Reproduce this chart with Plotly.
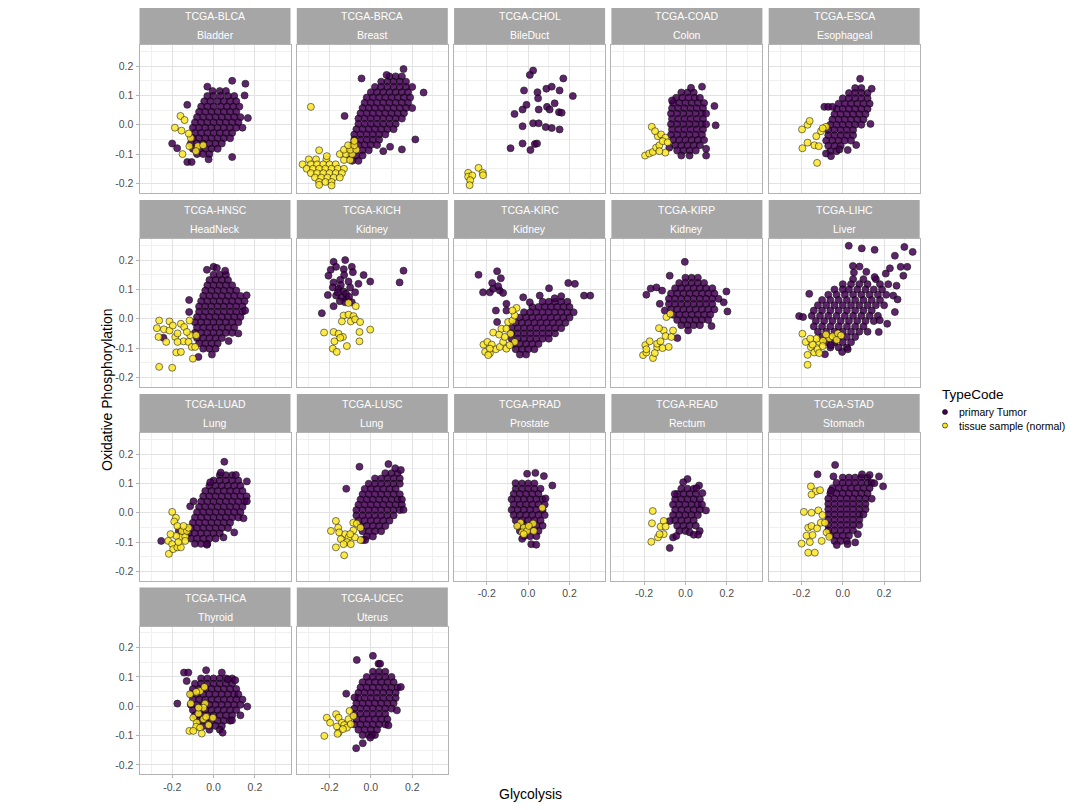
import plotly.graph_objects as go

# facet labels
projects = ["TCGA-BLCA", "TCGA-BRCA", "TCGA-CHOL", "TCGA-COAD", "TCGA-ESCA",
            "TCGA-HNSC", "TCGA-KICH", "TCGA-KIRC", "TCGA-KIRP", "TCGA-LIHC",
            "TCGA-LUAD", "TCGA-LUSC", "TCGA-PRAD", "TCGA-READ", "TCGA-STAD",
            "TCGA-THCA", "TCGA-UCEC"]
sites = ["Bladder", "Breast", "BileDuct", "Colon", "Esophageal",
         "HeadNeck", "Kidney", "Kidney", "Kidney", "Liver",
         "Lung", "Lung", "Prostate", "Rectum", "Stomach",
         "Thyroid", "Uterus"]
type_codes = ["primary Tumor", "tissue sample (normal)"]
tick_vals = [-0.2, 0.0, 0.2]
tick_text = ["-0.2", "0.0", "0.2"]
y_tick_vals = [-0.2, -0.1, 0.0, 0.1, 0.2]
y_tick_text = ["-0.2", "-0.1", "0.0", "0.1", "0.2"]

blca_tumor_rows = [
    (0.115, [-0.005, 0.03, 0.06]),
    (0.098, [-0.03, 0.0, 0.035, 0.07, 0.10]),
    (0.08, [-0.045, -0.015, 0.02, 0.05, 0.08, 0.11]),
    (0.062, [-0.06, -0.03, 0.0, 0.035, 0.065, 0.095, 0.125]),
    (0.044, [-0.07, -0.04, -0.01, 0.02, 0.05, 0.08, 0.11]),
    (0.026, [-0.08, -0.05, -0.02, 0.01, 0.04, 0.07, 0.10, 0.13]),
    (0.008, [-0.09, -0.06, -0.03, 0.0, 0.03, 0.06, 0.09, 0.12]),
    (-0.01, [-0.10, -0.07, -0.04, -0.01, 0.02, 0.05, 0.08, 0.11, 0.14]),
    (-0.028, [-0.09, -0.06, -0.03, 0.0, 0.03, 0.06, 0.09]),
    (-0.046, [-0.10, -0.07, -0.04, -0.01, 0.02, 0.05, 0.08]),
    (-0.064, [-0.11, -0.08, -0.05, -0.02, 0.01, 0.04]),
    (-0.082, [-0.10, -0.07, -0.04, -0.01, 0.02]),
    (-0.10, [-0.08, -0.05, -0.02]),
]
blca_tumor_extra = [(0.154, 0.14), (0.09, 0.15), (-0.2, -0.064), (-0.127, -0.127), (-0.106, -0.127),
                    (0.09, -0.11), (-0.127, 0.068), (-0.03, 0.13), (0.15, 0.1), (0.166, 0.023),
                    (-0.176, -0.08), (-0.024, -0.118)]
blca_normal = [(-0.16, 0.03), (-0.187, -0.01), (-0.14, 0.016), (-0.155, -0.02), (-0.11, -0.045),
               (-0.15, -0.1), (-0.117, -0.073), (-0.076, -0.073), (-0.05, -0.07), (-0.085, -0.09),
               (-0.12, -0.03)]

brca_tumor_rows = [
    (0.165, [0.09, 0.12, 0.15]),
    (0.147, [0.05, 0.08, 0.11, 0.14, 0.17]),
    (0.129, [0.02, 0.05, 0.08, 0.11, 0.14, 0.17, 0.20]),
    (0.111, [0.0, 0.03, 0.06, 0.09, 0.12, 0.15, 0.18]),
    (0.093, [-0.02, 0.01, 0.04, 0.07, 0.10, 0.13, 0.16, 0.19]),
    (0.075, [-0.03, 0.0, 0.03, 0.06, 0.09, 0.12, 0.15, 0.18]),
    (0.057, [-0.04, -0.01, 0.02, 0.05, 0.08, 0.11, 0.14, 0.17, 0.20]),
    (0.039, [-0.05, -0.02, 0.01, 0.04, 0.07, 0.10, 0.13, 0.16]),
    (0.021, [-0.06, -0.03, 0.0, 0.03, 0.06, 0.09, 0.12, 0.15]),
    (0.003, [-0.06, -0.03, 0.0, 0.03, 0.06, 0.09, 0.12]),
    (-0.015, [-0.07, -0.04, -0.01, 0.02, 0.05, 0.08, 0.11]),
    (-0.033, [-0.08, -0.05, -0.02, 0.01, 0.04, 0.07]),
    (-0.051, [-0.08, -0.05, -0.02, 0.01, 0.04]),
    (-0.069, [-0.09, -0.06, -0.03, 0.0, 0.03]),
    (-0.087, [-0.10, -0.07, -0.04, -0.01]),
    (-0.105, [-0.10, -0.07, -0.04]),
    (-0.123, [-0.09, -0.06]),
]
brca_tumor_extra = [(0.215, -0.05), (0.15, -0.084), (0.06, -0.09), (0.093, -0.075), (-0.127, 0.03),
                    (-0.045, 0.158), (0.255, 0.11), (0.158, 0.19), (0.076, 0.17)]
brca_normal_rows = [
    (-0.118, [-0.30, -0.265, -0.215]),
    (-0.135, [-0.33, -0.29, -0.26, -0.23, -0.20, -0.17]),
    (-0.15, [-0.31, -0.28, -0.25, -0.22, -0.19, -0.16, -0.13]),
    (-0.165, [-0.29, -0.26, -0.23, -0.20, -0.17, -0.14]),
    (-0.18, [-0.27, -0.24, -0.21, -0.18, -0.15]),
    (-0.195, [-0.25, -0.22, -0.19]),
    (-0.12, [-0.13, -0.10]),
    (-0.10, [-0.15, -0.12, -0.09]),
    (-0.085, [-0.13, -0.10, -0.07]),
    (-0.07, [-0.11, -0.08]),
    (-0.055, [-0.08]),
]
brca_normal = [(-0.29, 0.061), (-0.25, -0.087), (-0.19, -0.207), (-0.25, -0.205), (-0.213, -0.107)]

chol_tumor = [(0.024, 0.185), (0.008, 0.17), (0.17, 0.158), (-0.02, 0.117), (0.045, 0.111),
              (0.088, 0.123), (0.114, 0.13), (0.152, 0.117), (0.216, 0.098), (0.048, 0.09),
              (-0.008, 0.068), (-0.027, 0.052), (-0.066, 0.037), (0.051, 0.052), (0.091, 0.061),
              (0.104, 0.052), (0.128, 0.073), (0.149, 0.043), (0.162, 0.041), (-0.027, -0.005),
              (0.024, 0.005), (0.051, 0.005), (0.085, -0.008), (0.114, -0.011), (0.152, -0.016),
              (-0.085, -0.08), (-0.027, -0.064), (0.032, -0.066), (0.043, -0.064), (0.011, -0.086)]
chol_normal = [(-0.29, -0.164), (-0.29, -0.177), (-0.27, -0.173), (-0.28, -0.189), (-0.283, -0.206),
               (-0.24, -0.147), (-0.22, -0.164), (-0.218, -0.172)]

coad_tumor_rows = [
    (0.11, [-0.02, 0.01, 0.04]),
    (0.092, [-0.045, -0.015, 0.015, 0.045, 0.07]),
    (0.074, [-0.06, -0.03, 0.0, 0.03, 0.06, 0.09]),
    (0.056, [-0.065, -0.035, -0.005, 0.025, 0.055, 0.085]),
    (0.038, [-0.07, -0.04, -0.01, 0.02, 0.05, 0.08, 0.10]),
    (0.02, [-0.065, -0.035, -0.005, 0.025, 0.055, 0.085]),
    (0.002, [-0.07, -0.04, -0.01, 0.02, 0.05, 0.08, 0.10]),
    (-0.016, [-0.065, -0.035, -0.005, 0.025, 0.055, 0.085]),
    (-0.034, [-0.07, -0.04, -0.01, 0.02, 0.05, 0.08]),
    (-0.052, [-0.06, -0.03, 0.0, 0.03, 0.06, 0.09]),
    (-0.07, [-0.05, -0.02, 0.01, 0.04, 0.07]),
    (-0.088, [-0.04, -0.01, 0.02, 0.05]),
    (-0.105, [-0.02, 0.02]),
]
coad_tumor_extra = [(0.027, 0.126), (0.08, 0.13), (0.14, 0.064), (0.146, -0.002), (0.1, -0.082),
                    (0.1, -0.105), (-0.078, -0.078), (-0.065, 0.083)]
coad_normal = [(-0.163, -0.007), (-0.195, -0.105), (-0.175, -0.098), (-0.158, -0.093), (-0.142, -0.078),
               (-0.126, -0.07), (-0.134, -0.039), (-0.118, -0.033), (-0.097, -0.044), (-0.147, -0.022),
               (-0.11, -0.056), (-0.097, -0.095), (-0.126, -0.09), (-0.086, -0.06)]

esca_tumor_rows = [
    (0.125, [0.06, 0.09]),
    (0.108, [0.03, 0.06, 0.09, 0.12]),
    (0.09, [0.0, 0.03, 0.06, 0.09, 0.12]),
    (0.072, [-0.02, 0.01, 0.04, 0.07, 0.10, 0.13]),
    (0.054, [-0.03, 0.0, 0.03, 0.06, 0.09, 0.12]),
    (0.036, [-0.04, -0.01, 0.02, 0.05, 0.08, 0.11]),
    (0.018, [-0.05, -0.02, 0.01, 0.04, 0.07, 0.10]),
    (0.0, [-0.06, -0.03, 0.0, 0.03, 0.06, 0.09]),
    (-0.018, [-0.07, -0.04, -0.01, 0.02, 0.05]),
    (-0.036, [-0.07, -0.04, -0.01, 0.02, 0.05]),
    (-0.054, [-0.08, -0.05, -0.02, 0.01, 0.04]),
    (-0.072, [-0.07, -0.04, -0.01]),
    (-0.09, [-0.06, -0.03]),
]
esca_tumor_extra = [(0.084, 0.157), (0.14, 0.123), (-0.089, 0.061), (-0.07, 0.061), (-0.05, 0.061),
                    (0.134, 0.003), (-0.081, -0.098), (-0.057, -0.107), (-0.016, -0.084), (0.024, -0.086),
                    (0.065, -0.069)]
esca_normal = [(-0.197, -0.016), (-0.17, 0.0), (-0.16, 0.013), (-0.195, -0.08), (-0.17, -0.061),
               (-0.137, -0.07), (-0.128, -0.039), (-0.116, -0.073), (-0.124, -0.13), (-0.105, -0.022),
               (-0.081, -0.007), (-0.097, -0.012)]

hnsc_tumor_rows = [
    (0.15, [0.0, 0.03, 0.06]),
    (0.132, [-0.02, 0.01, 0.04, 0.07]),
    (0.114, [-0.03, 0.0, 0.03, 0.06, 0.09]),
    (0.096, [-0.04, -0.01, 0.02, 0.05, 0.08, 0.11]),
    (0.078, [-0.05, -0.02, 0.01, 0.04, 0.07, 0.10, 0.13]),
    (0.06, [-0.06, -0.03, 0.0, 0.03, 0.06, 0.09, 0.12, 0.15]),
    (0.042, [-0.07, -0.04, -0.01, 0.02, 0.05, 0.08, 0.11, 0.14]),
    (0.024, [-0.07, -0.04, -0.01, 0.02, 0.05, 0.08, 0.11, 0.14]),
    (0.006, [-0.08, -0.05, -0.02, 0.01, 0.04, 0.07, 0.10, 0.13]),
    (-0.012, [-0.09, -0.06, -0.03, 0.0, 0.03, 0.06, 0.09, 0.12]),
    (-0.03, [-0.08, -0.05, -0.02, 0.01, 0.04, 0.07, 0.10]),
    (-0.048, [-0.09, -0.06, -0.03, 0.0, 0.03, 0.06, 0.09]),
    (-0.066, [-0.08, -0.05, -0.02, 0.01, 0.04]),
    (-0.084, [-0.07, -0.04, -0.01, 0.02]),
    (-0.102, [-0.05, -0.02, 0.01]),
]
hnsc_tumor_extra = [(0.0, 0.177), (0.016, 0.173), (-0.032, 0.167), (0.056, 0.164), (-0.118, 0.064),
                    (-0.118, 0.023), (0.12, -0.05), (0.073, -0.076), (-0.008, -0.122), (-0.073, -0.13),
                    (-0.242, -0.065), (0.153, 0.028), (0.16, 0.08)]
hnsc_normal = [(-0.263, -0.006), (-0.274, -0.032), (-0.266, -0.062), (-0.24, -0.036), (-0.213, -0.04),
               (-0.213, -0.009), (-0.197, -0.023), (-0.229, -0.079), (-0.185, -0.062), (-0.174, -0.05),
               (-0.158, -0.017), (-0.142, -0.028), (-0.145, -0.077), (-0.116, -0.006), (-0.113, -0.056),
               (-0.121, -0.079), (-0.18, -0.115), (-0.158, -0.113), (-0.1, -0.136), (-0.105, -0.096),
               (-0.263, -0.164), (-0.2, -0.167), (-0.084, -0.056), (-0.089, -0.096), (-0.174, -0.079),
               (-0.129, -0.045)]

kich_tumor = [(-0.18, 0.194), (-0.124, 0.2), (-0.168, 0.177), (-0.194, 0.167), (-0.131, 0.169),
              (-0.092, 0.177), (-0.205, 0.147), (-0.129, 0.149), (-0.087, 0.159), (-0.035, 0.149),
              (-0.18, 0.124), (-0.148, 0.133), (-0.108, 0.127), (-0.06, 0.119), (-0.003, 0.127),
              (-0.208, 0.081), (-0.184, 0.107), (-0.156, 0.102), (-0.131, 0.093), (-0.1, 0.107),
              (-0.076, 0.09), (-0.168, 0.079), (-0.14, 0.073), (-0.116, 0.068), (-0.092, 0.056),
              (-0.124, 0.056), (-0.18, 0.043), (-0.237, 0.019), (0.158, 0.164), (0.139, 0.124),
              (-0.16, 0.09), (-0.12, 0.085), (-0.145, 0.115), (-0.105, 0.075), (-0.15, 0.06)]
kich_normal = [(-0.073, 0.043), (-0.108, 0.054), (-0.132, 0.011), (-0.108, 0.014), (-0.084, 0.009),
               (-0.14, -0.009), (-0.097, -0.009), (-0.076, -0.002), (-0.052, -0.011), (-0.003, -0.037),
               (-0.226, -0.047), (-0.18, -0.045), (-0.156, -0.051), (-0.135, -0.062), (-0.176, -0.077),
               (-0.184, -0.102), (-0.165, -0.113), (-0.116, -0.093), (-0.055, -0.045), (-0.055, -0.077),
               (-0.148, -0.065)]

kirc_tumor_rows = [
    (0.058, [0.07, 0.10, 0.13, 0.16, 0.19]),
    (0.04, [0.02, 0.05, 0.08, 0.11, 0.14, 0.17, 0.20]),
    (0.022, [-0.02, 0.01, 0.04, 0.07, 0.10, 0.13, 0.16, 0.19, 0.22]),
    (0.004, [-0.04, -0.01, 0.02, 0.05, 0.08, 0.11, 0.14, 0.17, 0.20]),
    (-0.014, [-0.06, -0.03, 0.0, 0.03, 0.06, 0.09, 0.12, 0.15, 0.18]),
    (-0.032, [-0.08, -0.05, -0.02, 0.01, 0.04, 0.07, 0.10, 0.13, 0.16]),
    (-0.05, [-0.08, -0.05, -0.02, 0.01, 0.04, 0.07, 0.10, 0.13]),
    (-0.068, [-0.08, -0.05, -0.02, 0.01, 0.04, 0.07, 0.10]),
    (-0.086, [-0.07, -0.04, -0.01, 0.02, 0.05]),
    (-0.104, [-0.06, -0.03, 0.0, 0.03]),
    (-0.122, [-0.04, -0.01]),
]
kirc_tumor_extra = [(-0.24, 0.15), (-0.15, 0.162), (-0.218, 0.09), (-0.174, 0.122), (-0.185, 0.09),
                    (-0.169, 0.102), (-0.137, 0.096), (-0.145, 0.111), (-0.132, 0.138), (-0.121, 0.088),
                    (-0.156, 0.028), (-0.105, 0.051), (-0.15, -0.011), (-0.105, 0.028), (0.27, 0.079),
                    (0.3, 0.079), (0.226, 0.119), (0.194, 0.122), (0.101, 0.104), (0.16, 0.077),
                    (0.056, 0.079), (0.128, 0.07), (-0.024, 0.073), (0.008, 0.056)]
kirc_normal = [(-0.216, -0.088), (-0.197, -0.079), (-0.176, -0.088), (-0.208, -0.113), (-0.185, -0.118),
               (-0.156, -0.104), (-0.185, -0.102), (-0.137, -0.096), (-0.121, -0.079), (-0.105, -0.102),
               (-0.169, -0.047), (-0.14, -0.054), (-0.129, -0.034), (-0.105, -0.034), (-0.097, -0.011),
               (-0.076, -0.006), (-0.065, 0.011), (-0.056, 0.037), (-0.076, 0.028), (-0.085, -0.051),
               (-0.065, -0.079), (-0.193, -0.124), (-0.089, -0.09), (-0.113, -0.062)]

kirp_tumor_rows = [
    (0.14, [0.0, 0.03, 0.06]),
    (0.122, [-0.03, 0.0, 0.03, 0.06, 0.09]),
    (0.104, [-0.05, -0.02, 0.01, 0.04, 0.07, 0.10, 0.13]),
    (0.086, [-0.07, -0.04, -0.01, 0.02, 0.05, 0.08, 0.11, 0.14]),
    (0.068, [-0.08, -0.05, -0.02, 0.01, 0.04, 0.07, 0.10, 0.13, 0.16]),
    (0.05, [-0.08, -0.05, -0.02, 0.01, 0.04, 0.07, 0.10, 0.13]),
    (0.032, [-0.07, -0.04, -0.01, 0.02, 0.05, 0.08, 0.11, 0.14]),
    (0.014, [-0.06, -0.03, 0.0, 0.03, 0.06, 0.09, 0.12]),
    (-0.004, [-0.04, -0.01, 0.02, 0.05, 0.08, 0.11]),
    (-0.022, [-0.02, 0.01, 0.04, 0.07]),
]
kirp_tumor_extra = [(-0.003, 0.194), (-0.076, 0.147), (-0.189, 0.082), (-0.168, 0.103), (-0.14, 0.107),
                    (-0.113, 0.096), (0.198, 0.093), (0.203, 0.025), (0.185, 0.056), (0.126, -0.025),
                    (0.013, -0.04), (-0.039, -0.066), (-0.124, 0.051), (-0.1, 0.028)]
kirp_normal = [(-0.205, -0.124), (-0.189, -0.115), (-0.194, -0.09), (-0.173, -0.077), (-0.189, -0.104),
               (-0.157, -0.134), (-0.137, -0.097), (-0.111, -0.1), (-0.137, -0.085), (-0.121, -0.077),
               (-0.105, -0.04), (-0.128, -0.032), (-0.096, -0.059), (-0.081, -0.096), (-0.068, -0.062),
               (-0.06, -0.04), (-0.092, 0.006), (-0.073, 0.017), (-0.148, -0.117)]

lihc_tumor_rows = [
    (0.135, [0.05, 0.10, 0.16]),
    (0.118, [0.0, 0.04, 0.08, 0.12, 0.18, 0.22]),
    (0.10, [-0.04, 0.0, 0.03, 0.07, 0.11, 0.15, 0.19]),
    (0.082, [-0.07, -0.03, 0.01, 0.05, 0.09, 0.13, 0.17, 0.21]),
    (0.064, [-0.10, -0.06, -0.02, 0.02, 0.06, 0.10, 0.14, 0.18]),
    (0.046, [-0.12, -0.08, -0.04, 0.0, 0.04, 0.08, 0.12, 0.16, 0.20]),
    (0.028, [-0.14, -0.10, -0.06, -0.02, 0.02, 0.06, 0.10, 0.14]),
    (0.01, [-0.15, -0.11, -0.07, -0.03, 0.01, 0.05, 0.09, 0.13, 0.17]),
    (-0.008, [-0.13, -0.09, -0.05, -0.01, 0.03, 0.07, 0.11, 0.15]),
    (-0.026, [-0.14, -0.10, -0.06, -0.02, 0.02, 0.06, 0.10]),
    (-0.044, [-0.12, -0.08, -0.04, 0.0, 0.04, 0.08, 0.12]),
    (-0.062, [-0.10, -0.06, -0.02, 0.02, 0.06]),
    (-0.08, [-0.08, -0.04, 0.0, 0.04]),
    (-0.098, [-0.06, -0.02, 0.02]),
]
lihc_tumor_extra = [(0.029, 0.249), (0.092, 0.24), (0.154, 0.235), (0.298, 0.245), (0.338, 0.228),
                    (0.252, 0.215), (0.228, 0.172), (0.28, 0.177), (0.312, 0.177), (0.293, 0.147),
                    (0.049, 0.18), (0.081, 0.178), (0.054, 0.158), (0.114, 0.16), (0.154, 0.142),
                    (0.208, 0.154), (0.26, 0.113), (0.244, 0.079), (0.265, 0.066), (0.252, 0.023),
                    (0.215, -0.017), (0.174, -0.045), (-0.162, 0.085), (-0.211, 0.009), (-0.192, 0.006),
                    (-0.003, -0.113), (0.024, -0.104), (-0.086, -0.121), (-0.057, -0.09), (0.179, -0.005)]
lihc_normal = [(-0.195, -0.051), (-0.179, -0.079), (-0.17, -0.123), (-0.17, -0.157), (-0.154, -0.097),
               (-0.138, -0.115), (-0.122, -0.104), (-0.114, -0.079), (-0.127, -0.068), (-0.095, -0.075),
               (-0.065, -0.066), (-0.049, -0.06), (-0.024, -0.05), (-0.081, -0.054), (-0.114, -0.117),
               (-0.146, -0.088), (-0.097, -0.093), (-0.029, -0.072), (-0.008, -0.057), (-0.157, -0.068)]

luad_tumor_rows = [
    (0.128, [0.03, 0.06, 0.09]),
    (0.11, [0.0, 0.03, 0.06, 0.09, 0.12]),
    (0.092, [-0.02, 0.01, 0.04, 0.07, 0.10, 0.13]),
    (0.074, [-0.04, -0.01, 0.02, 0.05, 0.08, 0.11, 0.14]),
    (0.056, [-0.05, -0.02, 0.01, 0.04, 0.07, 0.10, 0.13, 0.16]),
    (0.038, [-0.06, -0.03, 0.0, 0.03, 0.06, 0.09, 0.12, 0.15]),
    (0.02, [-0.07, -0.04, -0.01, 0.02, 0.05, 0.08, 0.11, 0.14]),
    (0.002, [-0.08, -0.05, -0.02, 0.01, 0.04, 0.07, 0.10, 0.13]),
    (-0.016, [-0.09, -0.06, -0.03, 0.0, 0.03, 0.06, 0.09, 0.12]),
    (-0.034, [-0.10, -0.07, -0.04, -0.01, 0.02, 0.05, 0.08]),
    (-0.052, [-0.11, -0.08, -0.05, -0.02, 0.01, 0.04, 0.07]),
    (-0.07, [-0.12, -0.09, -0.06, -0.03, 0.0, 0.03]),
    (-0.088, [-0.11, -0.08, -0.05, -0.02, 0.01]),
    (-0.106, [-0.09, -0.06, -0.03]),
]
luad_tumor_extra = [(0.052, 0.174), (0.035, 0.137), (-0.016, 0.104), (0.108, 0.129), (0.161, 0.107),
                    (0.161, 0.039), (0.145, -0.019), (0.1, -0.067), (0.048, -0.084), (-0.032, -0.109),
                    (-0.113, 0.022), (-0.097, 0.039), (-0.253, -0.096), (-0.168, -0.062)]
luad_normal = [(-0.216, -0.14), (-0.2, 0.003), (-0.182, -0.017), (-0.19, -0.03), (-0.175, -0.045),
               (-0.219, -0.096), (-0.2, -0.107), (-0.195, -0.124), (-0.175, -0.118), (-0.158, -0.118),
               (-0.16, -0.084), (-0.137, -0.082), (-0.18, -0.079), (-0.153, -0.062), (-0.129, -0.062),
               (-0.137, -0.096), (-0.121, -0.051), (-0.208, -0.073), (-0.17, -0.1), (-0.145, -0.045)]

lusc_tumor_rows = [
    (0.135, [0.07, 0.10, 0.13]),
    (0.117, [0.02, 0.05, 0.08, 0.11, 0.14]),
    (0.099, [-0.01, 0.02, 0.05, 0.08, 0.11, 0.14]),
    (0.081, [-0.03, 0.0, 0.03, 0.06, 0.09, 0.12]),
    (0.063, [-0.04, -0.01, 0.02, 0.05, 0.08, 0.11, 0.14]),
    (0.045, [-0.05, -0.02, 0.01, 0.04, 0.07, 0.10, 0.13, 0.15]),
    (0.027, [-0.06, -0.03, 0.0, 0.03, 0.06, 0.09, 0.12, 0.15]),
    (0.009, [-0.07, -0.04, -0.01, 0.02, 0.05, 0.08, 0.11, 0.14]),
    (-0.009, [-0.07, -0.04, -0.01, 0.02, 0.05, 0.08, 0.11]),
    (-0.027, [-0.06, -0.03, 0.0, 0.03, 0.06, 0.09]),
    (-0.045, [-0.05, -0.02, 0.01, 0.04, 0.07]),
    (-0.063, [-0.04, -0.01, 0.02, 0.05]),
    (-0.081, [-0.02, 0.01]),
]
lusc_tumor_extra = [(-0.055, 0.157), (0.085, 0.166), (0.118, 0.152), (0.145, 0.146), (-0.119, 0.082),
                    (0.158, 0.01), (-0.039, -0.093), (-0.027, -0.093)]
lusc_normal = [(-0.169, -0.028), (-0.158, -0.051), (-0.193, -0.062), (-0.153, -0.067), (-0.124, -0.073),
               (-0.108, -0.084), (-0.145, -0.09), (-0.116, -0.1), (-0.097, -0.107), (-0.132, -0.107),
               (-0.169, -0.118), (-0.129, -0.145), (-0.085, -0.034), (-0.068, -0.037), (-0.05, -0.051),
               (-0.085, -0.06), (-0.05, -0.093), (-0.077, -0.084), (-0.1, -0.073)]

prad_tumor_rows = [
    (0.10, [-0.03, 0.0, 0.03]),
    (0.082, [-0.06, -0.03, 0.0, 0.03, 0.06]),
    (0.064, [-0.07, -0.04, -0.01, 0.02, 0.05]),
    (0.046, [-0.08, -0.05, -0.02, 0.01, 0.04, 0.07]),
    (0.028, [-0.07, -0.04, -0.01, 0.02, 0.05, 0.08]),
    (0.01, [-0.08, -0.05, -0.02, 0.01, 0.04, 0.07]),
    (-0.008, [-0.07, -0.04, -0.01, 0.02, 0.05, 0.08]),
    (-0.026, [-0.06, -0.03, 0.0, 0.03, 0.06]),
    (-0.044, [-0.05, -0.02, 0.01, 0.04, 0.07]),
    (-0.062, [-0.04, -0.01, 0.02, 0.05]),
    (-0.08, [-0.02, 0.01, 0.04]),
]
prad_tumor_extra = [(0.117, 0.093), (0.076, 0.125), (0.035, 0.136), (-0.005, 0.133), (-0.061, 0.101),
                    (-0.029, -0.089), (0.015, -0.107), (0.039, -0.109), (0.084, 0.049)]
prad_normal = [(-0.037, -0.034), (-0.021, -0.051), (-0.029, -0.067), (-0.005, -0.062), (-0.021, -0.073),
               (0.024, -0.037), (0.003, -0.045), (-0.053, -0.045), (0.068, 0.017), (0.027, -0.062)]

read_tumor_rows = [
    (0.082, [-0.02, 0.01, 0.04]),
    (0.064, [-0.04, -0.01, 0.02, 0.05]),
    (0.046, [-0.05, -0.02, 0.01, 0.04, 0.07]),
    (0.028, [-0.06, -0.03, 0.0, 0.03, 0.06, 0.08]),
    (0.01, [-0.05, -0.02, 0.01, 0.04, 0.07]),
    (-0.008, [-0.06, -0.03, 0.0, 0.03, 0.06]),
    (-0.026, [-0.05, -0.02, 0.01, 0.04]),
    (-0.044, [-0.04, -0.01, 0.02, 0.05]),
    (-0.062, [-0.03, 0.0]),
]
read_tumor_extra = [(0.01, 0.115), (-0.011, 0.104), (0.066, 0.093), (0.053, 0.084), (0.082, 0.067),
                    (-0.052, 0.064), (0.099, 0.008), (-0.076, -0.12), (-0.06, -0.084), (0.021, -0.067),
                    (0.069, -0.062), (0.061, -0.075), (0.04, -0.075), (-0.076, -0.028), (-0.044, -0.079)]
read_normal = [(-0.158, 0.006), (-0.162, -0.036), (-0.165, -0.099), (-0.133, -0.084), (-0.12, -0.047),
               (-0.105, -0.028), (-0.105, -0.073), (-0.125, -0.073), (-0.096, -0.047)]

stad_tumor_rows = [
    (0.12, [0.0, 0.03, 0.06, 0.09, 0.12]),
    (0.102, [-0.03, 0.0, 0.03, 0.06, 0.09, 0.12, 0.14]),
    (0.084, [-0.05, -0.02, 0.01, 0.04, 0.07, 0.10, 0.13]),
    (0.066, [-0.06, -0.03, 0.0, 0.03, 0.06, 0.09, 0.12]),
    (0.048, [-0.07, -0.04, -0.01, 0.02, 0.05, 0.08, 0.11, 0.14]),
    (0.03, [-0.07, -0.04, -0.01, 0.02, 0.05, 0.08, 0.11]),
    (0.012, [-0.07, -0.04, -0.01, 0.02, 0.05, 0.08, 0.11]),
    (-0.006, [-0.07, -0.04, -0.01, 0.02, 0.05, 0.08, 0.10]),
    (-0.024, [-0.07, -0.04, -0.01, 0.02, 0.05, 0.08]),
    (-0.042, [-0.07, -0.04, -0.01, 0.02, 0.05, 0.08]),
    (-0.06, [-0.07, -0.04, -0.01, 0.02, 0.05]),
    (-0.078, [-0.06, -0.03, 0.0, 0.03]),
    (-0.096, [-0.04, -0.01, 0.02]),
]
stad_tumor_extra = [(-0.037, 0.163), (-0.122, 0.131), (-0.045, 0.124), (0.093, 0.131), (0.13, 0.129),
                    (0.175, 0.124), (0.195, 0.09), (0.153, 0.101), (-0.057, 0.075), (0.073, -0.073),
                    (0.023, -0.107), (0.06, -0.101), (-0.029, -0.11)]
stad_normal = [(-0.154, 0.09), (-0.13, 0.073), (-0.11, 0.077), (-0.151, 0.062), (-0.188, 0.003),
               (-0.151, 0.0), (-0.118, 0.008), (-0.167, -0.051), (-0.151, -0.045), (-0.124, -0.053),
               (-0.106, -0.034), (-0.098, -0.008), (-0.199, -0.105), (-0.175, -0.078), (-0.146, -0.076),
               (-0.159, -0.1), (-0.167, -0.136), (-0.135, -0.136), (-0.102, -0.096), (-0.078, -0.067),
               (-0.065, -0.082), (-0.086, -0.034)]

thca_tumor_rows = [
    (0.095, [-0.06, -0.03, 0.0, 0.03, 0.06, 0.09]),
    (0.077, [-0.09, -0.06, -0.03, 0.0, 0.03, 0.06, 0.09]),
    (0.059, [-0.10, -0.07, -0.04, -0.01, 0.02, 0.05, 0.08, 0.11]),
    (0.041, [-0.11, -0.08, -0.05, -0.02, 0.01, 0.04, 0.07, 0.10, 0.12]),
    (0.023, [-0.10, -0.07, -0.04, -0.01, 0.02, 0.05, 0.08, 0.11, 0.14]),
    (0.005, [-0.11, -0.08, -0.05, -0.02, 0.01, 0.04, 0.07, 0.10, 0.13]),
    (-0.013, [-0.10, -0.07, -0.04, -0.01, 0.02, 0.05, 0.08, 0.11]),
    (-0.031, [-0.09, -0.06, -0.03, 0.0, 0.03, 0.06, 0.09]),
    (-0.049, [-0.07, -0.04, -0.01, 0.02, 0.05, 0.08]),
    (-0.067, [-0.05, -0.02, 0.01, 0.04]),
    (-0.08, [-0.02, 0.03]),
]
thca_tumor_extra = [(-0.175, 0.009), (-0.143, 0.115), (-0.122, 0.115), (-0.13, 0.086), (-0.036, 0.123),
                    (0.04, 0.115), (0.07, 0.092), (0.105, 0.089), (0.163, -0.001), (0.13, -0.031),
                    (0.089, -0.048), (0.044, -0.09)]
thca_normal = [(-0.117, -0.084), (-0.098, -0.039), (-0.081, -0.056), (-0.084, -0.07), (-0.065, -0.073),
               (-0.049, -0.044), (-0.024, -0.064), (-0.036, -0.036), (-0.073, -0.025), (-0.065, 0.052),
               (-0.044, 0.066), (-0.084, 0.049), (-0.114, 0.041), (-0.041, 0.009), (-0.049, -0.005),
               (-0.073, -0.005), (-0.11, 0.009), (-0.003, -0.039), (-0.098, -0.084), (-0.057, -0.093)]

ucec_tumor_rows = [
    (0.118, [0.01, 0.04, 0.07]),
    (0.10, [-0.02, 0.01, 0.04, 0.07, 0.10]),
    (0.082, [-0.04, -0.01, 0.02, 0.05, 0.08, 0.11]),
    (0.064, [-0.05, -0.02, 0.01, 0.04, 0.07, 0.10, 0.13]),
    (0.046, [-0.06, -0.03, 0.0, 0.03, 0.06, 0.09, 0.12]),
    (0.028, [-0.06, -0.03, 0.0, 0.03, 0.06, 0.09, 0.12]),
    (0.01, [-0.07, -0.04, -0.01, 0.02, 0.05, 0.08, 0.11]),
    (-0.008, [-0.08, -0.05, -0.02, 0.01, 0.04, 0.07, 0.10]),
    (-0.026, [-0.08, -0.05, -0.02, 0.01, 0.04, 0.07]),
    (-0.044, [-0.07, -0.04, -0.01, 0.02, 0.05, 0.08]),
    (-0.062, [-0.08, -0.05, -0.02, 0.01, 0.04, 0.07]),
    (-0.08, [-0.06, -0.03, 0.0, 0.03]),
    (-0.098, [-0.04, -0.01, 0.02]),
]
ucec_tumor_extra = [(0.01, 0.172), (-0.068, 0.158), (0.037, 0.145), (0.045, 0.145), (0.145, 0.066),
                    (0.126, -0.014), (0.085, -0.065), (0.005, -0.098), (-0.003, -0.107), (-0.039, -0.126),
                    (-0.071, -0.143), (-0.119, 0.043), (-0.079, 0.03)]
ucec_normal = [(-0.225, -0.101), (-0.213, -0.039), (-0.197, -0.056), (-0.168, -0.027), (-0.156, -0.039),
               (-0.164, -0.069), (-0.14, -0.056), (-0.156, -0.09), (-0.129, -0.064), (-0.116, -0.073),
               (-0.135, -0.078), (-0.108, -0.044), (-0.103, -0.016), (-0.097, -0.061), (-0.084, -0.033),
               (-0.161, -0.094)]


def expand(rows=(), extra=()):
    xs, ys = [], []
    for y, xlist in rows:
        for x in xlist:
            xs.append(x)
            ys.append(y)
    for x, y in extra:
        xs.append(x)
        ys.append(y)
    return xs, ys


tumor = [expand(blca_tumor_rows, blca_tumor_extra), expand(brca_tumor_rows, brca_tumor_extra),
         expand(extra=chol_tumor), expand(coad_tumor_rows, coad_tumor_extra),
         expand(esca_tumor_rows, esca_tumor_extra), expand(hnsc_tumor_rows, hnsc_tumor_extra),
         expand(extra=kich_tumor), expand(kirc_tumor_rows, kirc_tumor_extra),
         expand(kirp_tumor_rows, kirp_tumor_extra), expand(lihc_tumor_rows, lihc_tumor_extra),
         expand(luad_tumor_rows, luad_tumor_extra), expand(lusc_tumor_rows, lusc_tumor_extra),
         expand(prad_tumor_rows, prad_tumor_extra), expand(read_tumor_rows, read_tumor_extra),
         expand(stad_tumor_rows, stad_tumor_extra), expand(thca_tumor_rows, thca_tumor_extra),
         expand(ucec_tumor_rows, ucec_tumor_extra)]
normal = [expand(extra=blca_normal), expand(brca_normal_rows, brca_normal), expand(extra=chol_normal),
          expand(extra=coad_normal), expand(extra=esca_normal), expand(extra=hnsc_normal),
          expand(extra=kich_normal), expand(extra=kirc_normal), expand(extra=kirp_normal),
          expand(extra=lihc_normal), expand(extra=luad_normal), expand(extra=lusc_normal),
          expand(extra=prad_normal), expand(extra=read_normal), expand(extra=stad_normal),
          expand(extra=thca_normal), expand(extra=ucec_normal)]

# page body keeps an 8px margin, so the figure is 16px smaller than the window
OFF = 8
W, H = 1064, 794


def px(p):
    return (p - OFF) / W


def py(p):
    return 1 - (p - OFF) / H


col_left = [139.5, 296.8, 454.1, 611.4, 768.7]
panel_w = 151
strip_top = [6, 200, 394, 587.5]
strip_h = 39
plot_h = 147.5
tumor_col = "#440154"
normal_col = "#FDE725"
font = "Liberation Sans, Arial, sans-serif"

fig = go.Figure()
layout = {}
shapes = []
annotations = []

for i, proj in enumerate(projects):
    r, c = divmod(i, 5)
    axname = "" if i == 0 else str(i + 1)
    x0 = px(col_left[c])
    x1 = px(col_left[c] + panel_w)
    ptop = strip_top[r] + strip_h
    y1 = py(ptop)
    y0 = py(ptop + plot_h)
    bottom = (r == 3) or (r == 2 and c >= 2)

    layout["xaxis" + axname] = dict(
        domain=[x0, x1], anchor="y" + axname, range=[-0.358, 0.372],
        tickvals=tick_vals, ticktext=tick_text, showticklabels=bottom,
        ticks="outside" if bottom else "", ticklen=3, tickcolor="#B3B3B3",
        tickfont=dict(size=10.5, color="#4D4D4D"),
        showgrid=True, gridcolor="#E2E2E2", gridwidth=0.8,
        minor=dict(dtick=0.1, tick0=-0.3, showgrid=True, gridcolor="#F0F0F0", gridwidth=0.5),
        zeroline=False, showline=True, mirror=True, linecolor="#B3B3B3", linewidth=1)
    layout["yaxis" + axname] = dict(
        domain=[y0, y1], anchor="x" + axname, range=[-0.231, 0.272],
        tickvals=y_tick_vals, ticktext=y_tick_text, showticklabels=(c == 0),
        ticks="outside" if c == 0 else "", ticklen=3, tickcolor="#B3B3B3",
        tickfont=dict(size=10.5, color="#4D4D4D"),
        showgrid=True, gridcolor="#E2E2E2", gridwidth=0.8,
        minor=dict(dtick=0.1, tick0=-0.25, showgrid=True, gridcolor="#F0F0F0", gridwidth=0.5),
        zeroline=False, showline=True, mirror=True, linecolor="#B3B3B3", linewidth=1)

    # strip with two label lines
    shapes.append(dict(type="rect", xref="paper", yref="paper", x0=x0, x1=x1,
                       y0=py(strip_top[r] + strip_h), y1=py(strip_top[r]),
                       fillcolor="#A6A6A6", line=dict(width=0), layer="below"))
    xm = (x0 + x1) / 2
    for txt, dy in [(proj, 10), (sites[i], 29)]:
        annotations.append(dict(text=txt, x=xm, y=py(strip_top[r] + dy), xref="paper", yref="paper",
                                xanchor="center", yanchor="middle", showarrow=False,
                                font=dict(size=10.5, color="white", family=font)))

    tx, ty = tumor[i]
    nx, ny = normal[i]
    fig.add_trace(go.Scatter(x=tx, y=ty, mode="markers", xaxis="x" + axname, yaxis="y" + axname,
                             marker=dict(size=7, color=tumor_col, opacity=0.86,
                                         line=dict(color="black", width=0.7)),
                             showlegend=False, hoverinfo="skip"))
    fig.add_trace(go.Scatter(x=nx, y=ny, mode="markers", xaxis="x" + axname, yaxis="y" + axname,
                             marker=dict(size=7, color=normal_col, opacity=0.85,
                                         line=dict(color="black", width=0.6)),
                             showlegend=False, hoverinfo="skip"))

# legend drawn by hand so it does not push the panels
annotations.append(dict(text="TypeCode", x=px(940), y=py(394), xref="paper", yref="paper",
                        xanchor="left", yanchor="middle", showarrow=False,
                        font=dict(size=13.5, color="black", family=font)))
for j, (name, col) in enumerate(zip(type_codes, [tumor_col, normal_col])):
    yy = 412 + j * 13.5
    shapes.append(dict(type="circle", xref="paper", yref="paper", xsizemode="pixel", ysizemode="pixel",
                       xanchor=px(945), yanchor=py(yy), x0=-2.5, x1=2.5, y0=-2.5, y1=2.5,
                       fillcolor=col, line=dict(color="black", width=0.6)))
    annotations.append(dict(text=name, x=px(957), y=py(yy), xref="paper", yref="paper",
                            xanchor="left", yanchor="middle", showarrow=False,
                            font=dict(size=10.5, color="black", family=font)))

annotations.append(dict(text="Glycolysis", x=px(530), y=py(794), xref="paper", yref="paper",
                        xanchor="center", yanchor="middle", showarrow=False,
                        font=dict(size=14, color="black", family=font)))
annotations.append(dict(text="Oxidative Phosphorylation", x=px(107), y=py(390), xref="paper",
                        yref="paper", xanchor="center", yanchor="middle", showarrow=False,
                        textangle=-90, font=dict(size=14, color="black", family=font)))

fig.update_layout(**layout)
fig.update_layout(
    width=W, height=H, margin=dict(l=0, r=0, t=0, b=0),
    paper_bgcolor="white", plot_bgcolor="white",
    font=dict(family=font), showlegend=False,
    shapes=shapes, annotations=annotations,
)

fig.write_html("out.html")
